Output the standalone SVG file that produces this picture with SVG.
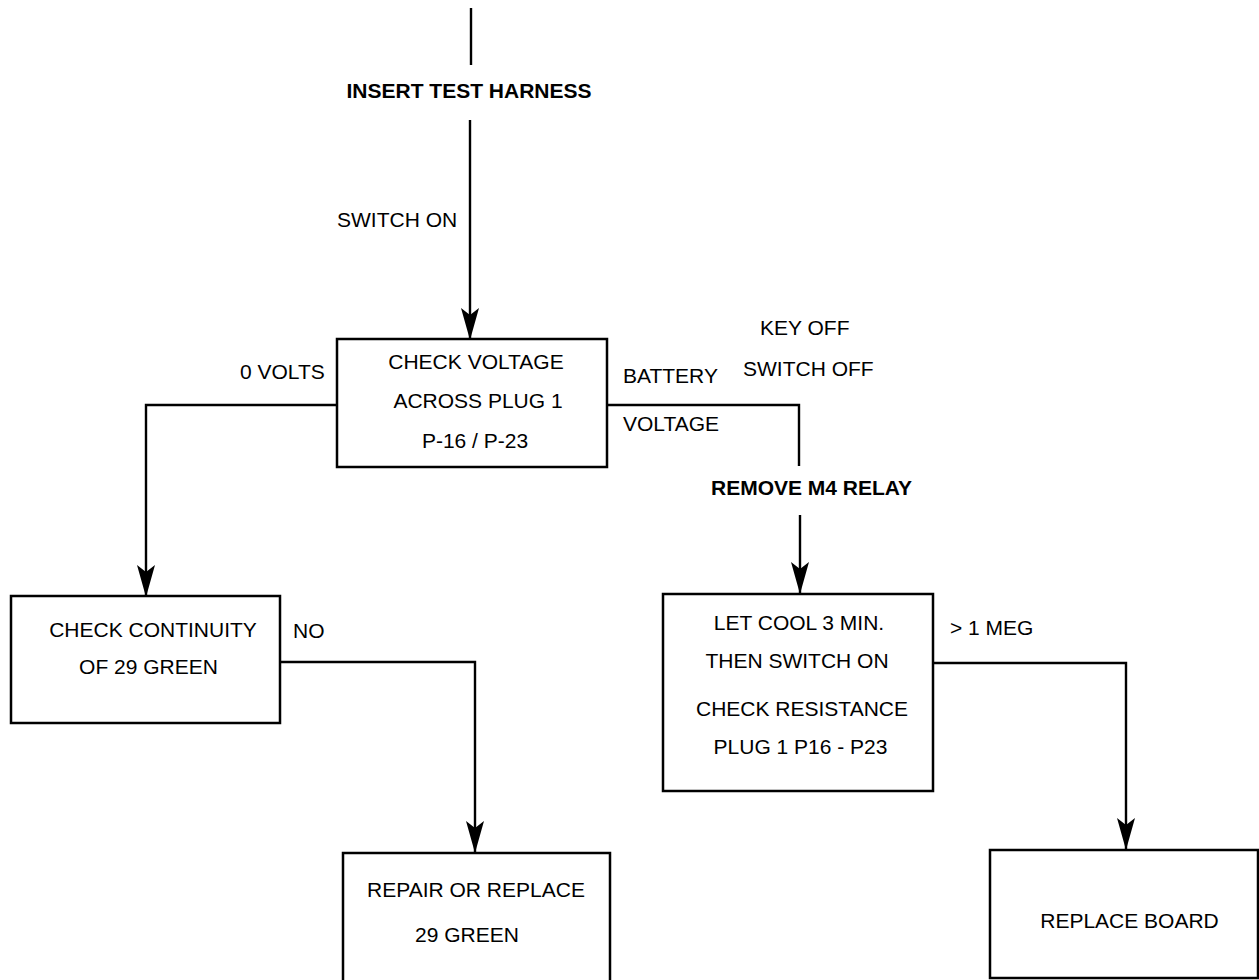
<svg xmlns="http://www.w3.org/2000/svg" width="1259" height="980" viewBox="0 0 1259 980">
<style>
  text { font-family: "Liberation Sans", Arial, sans-serif; font-size: 21px; fill: #000; }
  .b { font-weight: bold; }
  .m { text-anchor: middle; }
  .box { fill: #fff; stroke: #000; stroke-width: 2.5; }
  .ln { fill: none; stroke: #000; stroke-width: 2.4; }
</style>
<defs>
  <marker id="arr" markerUnits="userSpaceOnUse" markerWidth="34" markerHeight="20" refX="32" refY="10" orient="auto" viewBox="0 0 34 20">
    <path d="M0,1 L32,10 L0,19 L7,10 Z" fill="#000"/>
  </marker>
</defs>
<rect width="1259" height="980" fill="#fff"/>

<g id="connectors">
  <line class="ln" x1="471" y1="8" x2="471" y2="65"/>
  <line class="ln" x1="470" y1="120" x2="470" y2="340" marker-end="url(#arr)"/>
  <polyline class="ln" points="337,405 146,405 146,597" marker-end="url(#arr)"/>
  <polyline class="ln" points="607,405 799,405 799,466"/>
  <line class="ln" x1="800" y1="515" x2="800" y2="594" marker-end="url(#arr)"/>
  <polyline class="ln" points="280,662 475,662 475,853" marker-end="url(#arr)"/>
  <polyline class="ln" points="933,663 1126,663 1126,850" marker-end="url(#arr)"/>
</g>

<g id="labels">
  <text class="b m" x="469" y="98">INSERT TEST HARNESS</text>
  <text x="337" y="227">SWITCH ON</text>
  <text x="240" y="379">0 VOLTS</text>
  <text x="623" y="383">BATTERY</text>
  <text x="623" y="431">VOLTAGE</text>
  <text x="760" y="335">KEY OFF</text>
  <text x="743" y="376">SWITCH OFF</text>
  <text class="b" x="711" y="495">REMOVE M4 RELAY</text>
  <text x="293" y="638">NO</text>
  <text x="950" y="635">&gt; 1 MEG</text>
</g>

<g id="node-check-voltage">
  <rect class="box" x="337" y="339" width="270" height="128"/>
  <text class="m" x="476" y="369">CHECK VOLTAGE</text>
  <text class="m" x="478" y="408">ACROSS PLUG 1</text>
  <text class="m" x="475" y="448">P-16 / P-23</text>
</g>

<g id="node-check-continuity">
  <rect class="box" x="11" y="596" width="269" height="127"/>
  <text class="m" x="153" y="637">CHECK CONTINUITY</text>
  <text class="m" x="148.5" y="674">OF 29 GREEN</text>
</g>

<g id="node-check-resistance">
  <rect class="box" x="663" y="594" width="270" height="197"/>
  <text class="m" x="799" y="630">LET COOL 3 MIN.</text>
  <text class="m" x="797" y="668">THEN SWITCH ON</text>
  <text class="m" x="802" y="716">CHECK RESISTANCE</text>
  <text class="m" x="800.5" y="754">PLUG 1 P16 - P23</text>
</g>

<g id="node-repair">
  <rect class="box" x="343" y="853" width="267" height="140"/>
  <text class="m" x="476" y="897">REPAIR OR REPLACE</text>
  <text class="m" x="467" y="942">29 GREEN</text>
</g>

<g id="node-replace-board">
  <rect class="box" x="990" y="850" width="268" height="128"/>
  <text class="m" x="1129.5" y="928">REPLACE BOARD</text>
</g>
</svg>
